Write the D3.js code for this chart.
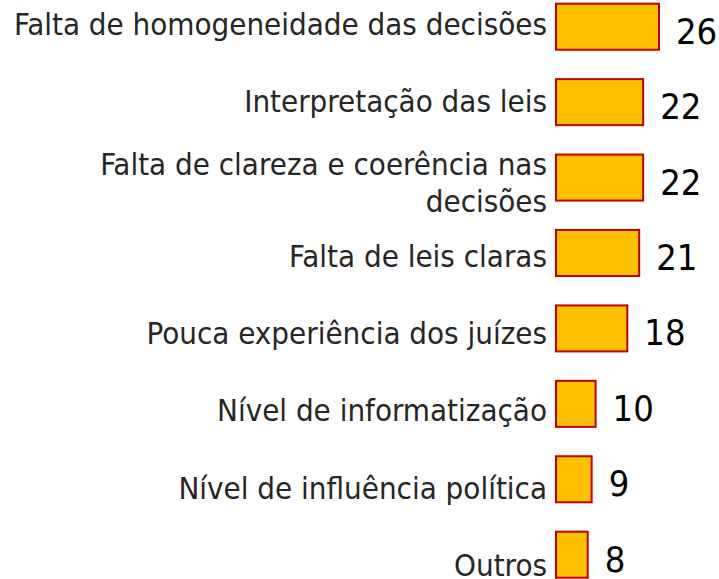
<!DOCTYPE html>
<html>
<head>
<meta charset="utf-8">
<script src="https://cdn.jsdelivr.net/npm/d3@7"></script>
<style>
  body { margin: 0; background: #fff; }
  svg { display: block; }
</style>
</head>
<body>
<svg id="chart" width="719" height="579"></svg>
<script>
// categories (top to bottom) and their values
const categories = [
  "Falta de homogeneidade das decisões",
  "Interpretação das leis",
  "Falta de clareza e coerência nas decisões",
  "Falta de leis claras",
  "Pouca experiência dos juízes",
  "Nível de informatização",
  "Nível de influência política",
  "Outros"
];
const values = [26, 22, 22, 21, 18, 10, 9, 8];
// label lines (wrapped like the original)
const labelLines = [
  ["Falta de homogeneidade das decisões"],
  ["Interpretação das leis"],
  ["Falta de clareza e coerência nas", "decisões"],
  ["Falta de leis claras"],
  ["Pouca experiência dos juízes"],
  ["Nível de informatização"],
  ["Nível de influência política"],
  ["Outros"]
];

const data = categories.map((c, i) => ({ name: c, value: values[i], lines: labelLines[i] }));

const svg = d3.select("#chart");
const font = "'DejaVu Sans Condensed', 'DejaVu Sans', sans-serif";

// x scale: bars start at 556, 4px per unit
const x = d3.scaleLinear().domain([0, 26]).range([556, 659]);

// y band scale for bars
const y = d3.scaleBand()
  .domain(categories)
  .range([-11, 592.4])
  .paddingInner(0.39)
  .paddingOuter(0.195);

// labels sit on their own slightly wider grid
const yLabel = d3.scalePoint()
  .domain(categories)
  .range([35, 576]);

const g = svg.append("g");

// bars
g.selectAll(".bar")
  .data(data)
  .enter()
  .append("rect")
  .attr("class", "bar")
  .attr("x", x(0))
  .attr("y", d => y(d.name))
  .attr("width", d => x(d.value) - x(0))
  .attr("height", y.bandwidth())
  .attr("fill", "#FFC000")
  .attr("stroke", "#C00000")
  .attr("stroke-width", 2);

// category labels
const labels = g.selectAll(".label")
  .data(data)
  .enter()
  .append("text")
  .attr("class", "label")
  .attr("text-anchor", "end")
  .attr("font-family", font)
  .attr("font-size", "31px")
  .attr("fill", "#262626");

labels.each(function (d) {
  const t = d3.select(this);
  const n = d.lines.length;
  d.lines.forEach((line, k) => {
    // two-line labels: first line above, second below the slot
    const base = n === 1 ? yLabel(d.name) : yLabel(d.name) - 15 + k * 37;
    t.append("tspan")
      .attr("x", x(0) - 9)
      .attr("y", base)
      .text(line);
  });
});

// value labels
g.selectAll(".value")
  .data(data)
  .enter()
  .append("text")
  .attr("class", "value")
  .attr("x", d => x(d.value) + 17)
  .attr("y", d => y(d.name) + y.bandwidth() / 2 + 17)
  .attr("font-family", font)
  .attr("font-size", "36px")
  .attr("fill", "#000")
  .text(d => d.value);
</script>
</body>
</html>
